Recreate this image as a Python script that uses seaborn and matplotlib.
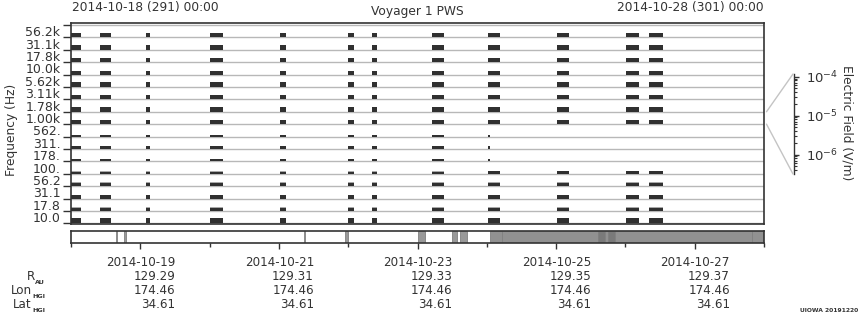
import numpy as np
import pandas as pd
import matplotlib
matplotlib.use("Agg")
import matplotlib.pyplot as plt
import matplotlib.dates as mdates
from matplotlib.lines import Line2D
import seaborn as sns

sns.set_theme(style="white")
plt.rcParams["font.family"] = ["DejaVu Sans"]
plt.rcParams["mathtext.default"] = "regular"

# ---------------- data ----------------
channels = ["56.2k", "31.1k", "17.8k", "10.0k", "5.62k", "3.11k", "1.78k", "1.00k",
            "562.", "311.", "178.", "100.", "56.2", "31.1", "17.8", "10.0"]

col_start = ["2014-10-18 00:00", "2014-10-18 10:00", "2014-10-19 02:00", "2014-10-20 00:10",
             "2014-10-21 00:25", "2014-10-21 23:55", "2014-10-22 08:15", "2014-10-23 05:00",
             "2014-10-24 00:25", "2014-10-24 01:05", "2014-10-25 00:20", "2014-10-26 00:10",
             "2014-10-26 08:10"]
col_end = ["2014-10-18 03:24", "2014-10-18 13:45", "2014-10-19 03:20", "2014-10-20 04:30",
           "2014-10-21 02:20", "2014-10-22 01:55", "2014-10-22 10:00", "2014-10-23 09:10",
           "2014-10-24 01:05", "2014-10-24 04:35", "2014-10-25 04:30", "2014-10-26 04:40",
           "2014-10-26 12:55"]

nan = np.nan
# electric field per column and channel, in 1e-6 V/m (nan = no data)
field = [
    [2.1, 2.8, 2.1, 2.1, 2.8, 2.8, 2.8, 2.9, 0.82, 1.3, 0.82, 0.72, 1.3, 2.1, 1.3, 3.4],
    [2.1, 2.8, 2.1, 2.1, 2.8, 2.8, 2.8, 2.9, 0.82, 1.3, 0.82, 0.72, 1.3, 2.1, 1.3, 3.4],
    [2.1, 2.8, 2.1, 2.1, 2.8, 2.8, 2.8, 2.9, 0.82, 1.3, 0.82, 0.72, 1.3, 2.1, 1.3, 3.4],
    [2.1, 2.8, 2.1, 2.1, 2.8, 2.8, 2.8, 2.9, 0.82, 1.3, 0.82, 0.72, 1.3, 2.1, 1.3, 3.4],
    [2.1, 2.8, 2.1, 2.1, 2.8, 2.8, 2.8, 2.6, 0.82, 1.3, 0.82, 0.72, 1.3, 2.1, 1.3, 3.4],
    [2.1, 2.8, 2.1, 2.1, 2.8, 2.8, 2.8, 2.6, 0.82, 1.3, 0.82, 0.72, 1.3, 2.1, 1.3, 3.4],
    [2.1, 2.8, 2.1, 2.1, 2.8, 2.8, 2.8, 2.6, 0.82, 1.3, 0.82, 0.72, 1.3, 2.1, 1.3, 3.4],
    [2.1, 2.8, 2.1, 2.1, 2.8, 2.8, 2.8, 2.6, 0.82, 1.3, 0.82, 0.72, 1.3, 2.1, 1.3, 3.4],
    [2.1, 2.8, 2.1, 2.1, 2.8, 2.8, 2.8, 2.4, 0.82, 1.3, 0.82, 1.3, 1.3, 2.1, 1.3, 3.4],
    [2.1, 2.8, 2.1, 2.1, 2.8, 2.8, 2.8, 2.4, nan, nan, nan, 1.3, 1.3, 2.1, 1.3, 3.4],
    [2.1, 2.8, 2.1, 2.1, 2.8, 2.8, 2.8, 2.4, nan, nan, nan, 1.3, 1.3, 2.1, 1.3, 3.4],
    [2.1, 2.8, 2.1, 2.1, 2.8, 2.8, 2.8, 2.4, nan, nan, nan, 1.3, 1.3, 2.1, 1.3, 3.4],
    [2.1, 2.8, 2.1, 2.1, 2.8, 2.8, 2.8, 2.4, nan, nan, nan, 1.3, 1.3, 2.1, 1.3, 3.4],
]
# peak level per channel, 1e-6 V/m
peak = [nan, nan, nan, nan, nan, nan, nan, nan, nan, nan, nan, 1.3, 1.8, nan, 1.8, 4.3]

# status bar segments (hours after 2014-10-18 00:00)
status_start_h = [15.6, 18.5, 80.7, 94.9, 120.2, 131.8, 134.7, 145.1, 149.2, 182.6, 185.0, 185.9, 188.4, 235.7]
status_dur_h = [0.35, 0.6, 0.35, 1.0, 2.4, 1.8, 2.3, 4.1, 33.4, 2.4, 0.9, 2.5, 47.3, 4.3]
status_color = ["#b4b4b4", "#9a9a9a", "#b4b4b4", "#999999", "#999999", "#999999", "#999999",
                "#919191", "#919191", "#7a7a7a", "#919191", "#7a7a7a", "#919191", "#919191"]

label_dates = ["2014-10-19", "2014-10-21", "2014-10-23", "2014-10-25", "2014-10-27"]
r_au = ["129.29", "129.31", "129.33", "129.35", "129.37"]
lon_hgi = ["174.46", "174.46", "174.46", "174.46", "174.46"]
lat_hgi = ["34.61", "34.61", "34.61", "34.61", "34.61"]
row_names = ["R", "Lon", "Lat"]
row_subs = ["AU", "HGI", "HGI"]

t0 = "2014-10-18 00:00"
t1 = "2014-10-28 00:00"
LOG_MIN, LOG_MAX = -6.5, -3.93

# ---------------- figure ----------------
W, H = 860, 320
fig = plt.figure(figsize=(W / 100, H / 100), dpi=100)
fig.patch.set_facecolor("white")
TXT = "#333333"

ax = fig.add_axes([71 / W, 96 / H, 693 / W, 201 / H])
x0 = mdates.date2num(pd.Timestamp(t0))
x1 = mdates.date2num(pd.Timestamp(t1))
ax.set_xlim(x0, x1)
ax.set_ylim(-0.056, 16.16)

# baselines
for i in range(17):
    ax.axhline(i, color="#b8b8b8", lw=1.0, zorder=1)

starts = mdates.date2num(pd.to_datetime(col_start))
ends = mdates.date2num(pd.to_datetime(col_end))
fld = np.array(field) * 1e-6
pk = np.array(peak) * 1e-6
nrow = len(channels)


def band_h(e):
    return np.clip((np.log10(e) - LOG_MIN) / (LOG_MAX - LOG_MIN), 0, 1)


for c in range(len(starts)):
    for k in range(nrow):
        e = fld[c, k]
        if np.isnan(e):
            continue
        base = nrow - 1 - k
        if not np.isnan(pk[k]):
            ax.bar(starts[c], band_h(pk[k]), width=ends[c] - starts[c], bottom=base,
                   align="edge", color="#a9a9a9", lw=0, zorder=2)
        ax.bar(starts[c], band_h(e), width=ends[c] - starts[c], bottom=base,
               align="edge", color="#303030", lw=0, zorder=3)

ax.set_xticks([])
ax.set_yticks(range(17))
ax.set_yticklabels([""] * 17)
ax.set_yticks([nrow - 1 - k + 0.5 for k in range(nrow)], minor=True)
ax.set_yticklabels(channels, minor=True)
ax.tick_params(axis="y", which="major", left=True, length=5.8, width=1.0, color=TXT, direction="out")
ax.tick_params(axis="y", which="minor", left=True, length=0, pad=7.6, labelsize=9, labelcolor=TXT)
ax.set_ylabel("Frequency (Hz)", fontsize=8.8, color=TXT)
ax.yaxis.set_label_coords(-0.077, 0.47)
for s in ax.spines.values():
    s.set_color(TXT)
    s.set_linewidth(1.2)
    s.set_visible(True)

# status bar
ax2 = fig.add_axes([71 / W, 77.5 / H, 693 / W, 11.5 / H])
ax2.set_xlim(x0, x1)
ax2.set_ylim(0, 1)
sx = x0 + np.array(status_start_h) / 24.0
sw = np.array(status_dur_h) / 24.0
ax2.bar(sx, 1, width=sw, bottom=0, align="edge", color=status_color,
        edgecolor="#808080", lw=0.6, zorder=2)
ax2.set_yticks([])
ax2.xaxis.set_major_locator(mdates.DayLocator(bymonthday=[19, 21, 23, 25, 27]))
ax2.xaxis.set_minor_locator(mdates.DayLocator())
ax2.tick_params(axis="x", which="major", bottom=True, length=4.6, width=1.0, color=TXT, labelbottom=False)
ax2.tick_params(axis="x", which="minor", bottom=True, length=2.6, width=1.0, color=TXT)
for s in ax2.spines.values():
    s.set_color(TXT)
    s.set_linewidth(1.2)
    s.set_visible(True)

# bottom annotation rows
rows_y = [(320 - 262) / H, (320 - 276) / H, (320 - 290) / H, (320 - 305) / H]
for j, d in enumerate(label_dates):
    xd = mdates.date2num(pd.Timestamp(d))
    for val, yy in zip([d, r_au[j], lon_hgi[j], lat_hgi[j]], rows_y):
        ax2.annotate(val, xy=(xd, yy), xycoords=("data", "figure fraction"),
                     xytext=(25.3, 0), textcoords="offset points",
                     ha="right", va="center", fontsize=8.6, color=TXT)

renderer = fig.canvas.get_renderer()
for name, sub, yy in zip(row_names, row_subs, rows_y[1:]):
    st = fig.text(45 / W, yy - 6 / H, sub, ha="right", va="center", fontsize=4.6,
                  fontweight="bold", color=TXT)
    bb = st.get_window_extent(renderer)
    fig.text(bb.x0 / W, yy, name, ha="right", va="center", fontsize=8.6, color=TXT)

# top labels
fig.text(72 / W, (320 - 8) / H, "2014-10-18 (291) 00:00", ha="left", va="center", fontsize=8.8, color=TXT)
fig.text(764 / W, (320 - 8) / H, "2014-10-28 (301) 00:00", ha="right", va="center", fontsize=8.8, color=TXT)
fig.text(417 / W, (320 - 11) / H, "Voyager 1 PWS", ha="center", va="center", fontsize=8.8, color=TXT)
fig.text(858 / W, (320 - 310) / H, "UIOWA 20191220", ha="right", va="center", fontsize=4.3,
         fontweight="bold", color=TXT)

# electric field scale
ax3 = fig.add_axes([793 / W, (320 - 174) / H, 0.5 / W, 100 / H])
ax3.set_yscale("log")
ax3.set_ylim(10 ** LOG_MIN, 10 ** LOG_MAX)
ax3.set_xticks([])
for name, s in ax3.spines.items():
    s.set_visible(name == "right")
    s.set_color(TXT)
    s.set_linewidth(1.0)
ax3.patch.set_alpha(0)
ax3.yaxis.tick_right()
ax3.set_yticks([1e-6, 1e-5, 1e-4])
ax3.set_yticklabels([r"$10^{-6}$", r"$10^{-5}$", r"$10^{-4}$"])
ax3.tick_params(axis="y", which="major", right=True, length=3.8, width=1.0, color=TXT,
                pad=5.0, labelsize=9.5, labelcolor=TXT)
ax3.tick_params(axis="y", which="minor", right=True, length=2.0, width=0.8, color=TXT)
fig.text(847 / W, (320 - 123) / H, "Electric Field (V/m)", rotation=-90, ha="center", va="center",
         fontsize=8.8, color=TXT)

# connector lines from the 1.00k band to the scale
inv = fig.transFigure.inverted()
pA = inv.transform(ax.transData.transform((x1, 9)))
pB = inv.transform(ax.transData.transform((x1, 8)))
qA = inv.transform(ax3.transAxes.transform((0, 1)))
qB = inv.transform(ax3.transAxes.transform((0, 0)))
off = 2.5 / W
fig.add_artist(Line2D([pA[0] + off, qA[0]], [pA[1], qA[1]], transform=fig.transFigure,
                      color="#c4c4c4", lw=1.0))
fig.add_artist(Line2D([pB[0] + off, qB[0]], [pB[1], qB[1]], transform=fig.transFigure,
                      color="#c4c4c4", lw=1.0))

fig.savefig("out.png", dpi=100, facecolor="white")
